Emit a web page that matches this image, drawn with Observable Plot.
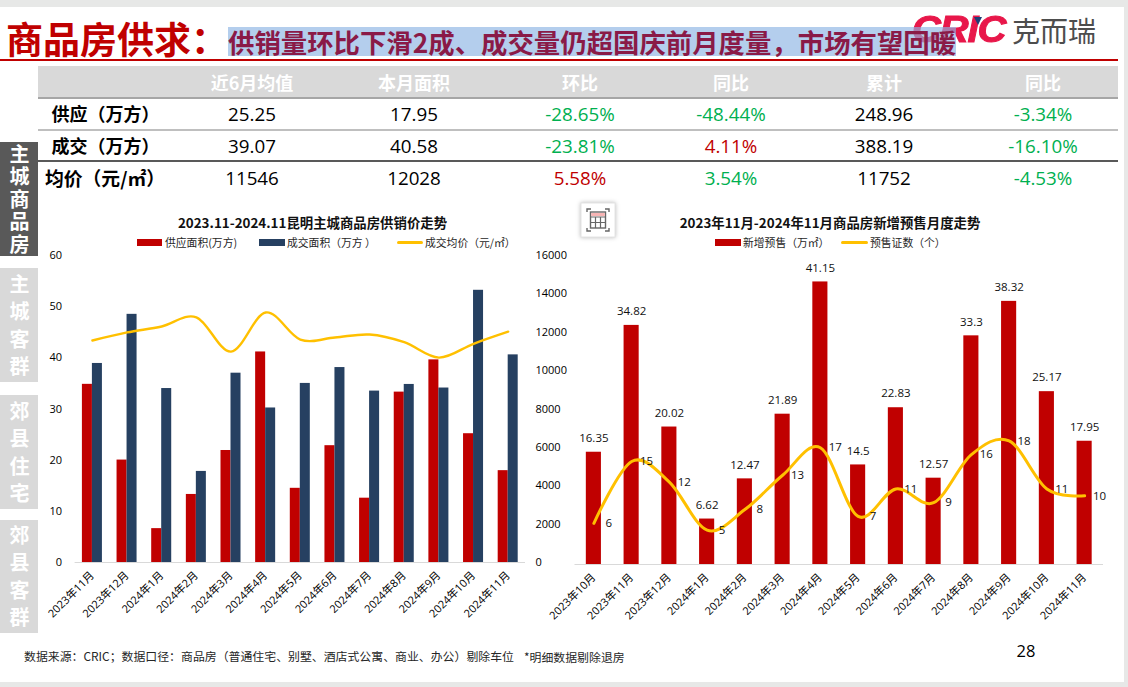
<!DOCTYPE html>
<html lang="zh">
<head>
<meta charset="utf-8">
<script src="https://cdn.jsdelivr.net/npm/d3@7"></script>
<script src="https://cdn.jsdelivr.net/npm/@observablehq/plot@0.6"></script>
<style>
html,body{margin:0;padding:0;background:#fff}
body{width:1128px;height:687px;position:relative;overflow:hidden;font-family:"Open Sans","Noto Sans CJK SC",sans-serif;color:#000}
.abs{position:absolute;white-space:nowrap}
.c{transform:translate(-50%,-50%)}
.cjk{font-family:"Noto Sans CJK SC",sans-serif}
svg{background:transparent!important}
.plot{position:absolute;left:0;top:0}
.tab{position:absolute;left:0;width:38px;display:flex;align-items:center;justify-content:center;color:#fff;font-weight:700;font-size:20px;font-family:"Noto Sans CJK SC",sans-serif}
.tab span{writing-mode:vertical-rl;text-orientation:upright;line-height:20px;white-space:nowrap}
.sw{position:absolute;height:7px}
.ln{position:absolute;height:3px;background:#ffc000;border-radius:2px}
.lg{position:absolute;font-size:10.8px;line-height:14px;color:#262626;white-space:nowrap;font-family:"Noto Sans CJK SC",sans-serif}
</style>
</head>
<body>
<div class="abs" style="left:0;top:0;width:1128px;height:7px;background:#e7e8e7"></div>
<div class="abs" style="left:0;top:682px;width:1128px;height:5px;background:#e7e8e7"></div>
<div class="abs" style="left:1124px;top:0;width:4px;height:687px;background:#e7e8e7"></div>

<div id="logo"></div>
<div class="abs cjk" id="title" style="left:6px;top:13px;font-size:37px;line-height:50px;font-weight:700;color:#c00000"></div>
<div class="abs cjk" id="subtitle" style="left:228px;top:27px;height:29px;line-height:29px;font-size:26.4px;font-weight:700;color:#8a1a47;background:rgba(140,180,228,.65)"></div>
<div class="abs" style="left:0;top:59px;width:1118px;height:1.5px;background:#c00000"></div>

<div class="abs" style="left:38px;top:66px;width:1080px;height:31px;background:#d9d9d9"></div>
<div class="abs" style="left:38px;top:97px;width:1080px;height:1.5px;background:#a6a6a6"></div>
<div class="abs" style="left:38px;top:129px;width:1080px;height:1.5px;background:#bfbfbf"></div>
<div class="abs" style="left:38px;top:160px;width:1080px;height:2px;background:#595959"></div>
<div id="table"></div>
<div id="tabs"></div>
<div id="chartL"></div>
<div id="chartR"></div>
<div id="legends"></div>

<svg class="abs" style="left:578px;top:200px;overflow:visible" width="40" height="40" viewBox="0 0 40 40">
  <rect x="3" y="3" width="34" height="34" fill="#fff" stroke="#e4e4e4" style="filter:drop-shadow(0 0 2px #bbb)"/>
  <path d="M9 12V9h4M27 9h4v3M9 28v3h4M27 31h4v-3" fill="none" stroke="#666" stroke-width="1.4"/>
  <rect x="12.5" y="12" width="15" height="16" fill="#fff" stroke="#666" stroke-width="1.4"/>
  <rect x="13.2" y="13" width="13.6" height="3" fill="#f7b4b4"/>
  <path d="M12.5 17h15M12.5 22.5h15M17.5 17v11M22.5 17v11" stroke="#666" stroke-width="1.2" fill="none"/>
</svg>

<div class="abs" id="source" style="left:24px;top:647px;font-size:11.9px;line-height:18px;color:#262626;font-family:'Noto Sans CJK SC',sans-serif"></div>
<div class="abs" id="note" style="left:524px;top:648px;font-size:11.9px;line-height:18px;color:#262626;font-family:'Noto Sans CJK SC',sans-serif"></div>
<div class="abs c" id="page" style="left:1026px;top:650px;font-size:16.5px;color:#000"></div>

<script>
// ---------- text ----------
const titleText = "商品房供求：";
const subtitleText = "供销量环比下滑2成、成交量仍超国庆前月度量，市场有望回暖";
const sourceText = "数据来源：CRIC；数据口径：商品房（普通住宅、别墅、酒店式公寓、商业、办公）剔除车位";
const noteText = "*明细数据剔除退房";
const pageText = "28";
const tabNames = ["主城商品房", "主城客群", "郊县住宅", "郊县客群"];

// ---------- summary table ----------
const tableHeaders = ["近6月均值", "本月面积", "环比", "同比", "累计", "同比"];
const rowLabels = ["供应（万方）", "成交（万方）", "均价（元/㎡）"];
const supplyRow = ["25.25", "17.95", "-28.65%", "-48.44%", "248.96", "-3.34%"];
const dealRow = ["39.07", "40.58", "-23.81%", "4.11%", "388.19", "-16.10%"];
const priceRow = ["11546", "12028", "5.58%", "3.54%", "11752", "-4.53%"];

// ---------- left chart ----------
const leftMonths = ["2023年11月","2023年12月","2024年1月","2024年2月","2024年3月","2024年4月","2024年5月","2024年6月","2024年7月","2024年8月","2024年9月","2024年10月","2024年11月"];
const leftTitle = "2023.11-2024.11昆明主城商品房供销价走势";
const supplyArea = [34.82,20.02,6.62,13.3,21.89,41.15,14.5,22.83,12.57,33.3,39.6,25.17,17.95];
const dealArea = [38.9,48.5,34,17.8,37,30.2,35,38.1,33.5,34.8,34.1,53.2,40.58];
const dealPrice = [11570,11990,12300,12780,10990,13030,11620,11730,11880,11480,10680,11400,12028];

// ---------- right chart ----------
const rightTitle = "2023年11月-2024年11月商品房新增预售月度走势";
const rightMonths = ["2023年10月","2023年11月","2023年12月","2024年1月","2024年2月","2024年3月","2024年4月","2024年5月","2024年6月","2024年7月","2024年8月","2024年9月","2024年10月","2024年11月"];
const newPresale = [16.35,34.82,20.02,6.62,12.47,21.89,41.15,14.5,22.83,12.57,33.3,38.32,25.17,17.95];
const permits = [6,15,12,5,8,13,17,7,11,9,16,18,11,10];

// ---------- colours ----------
const RED = "#c00000", NAVY = "#264061", GOLD = "#ffc000", GREEN = "#00b050";
const FONT = '"Open Sans","Noto Sans CJK SC",sans-serif';
const smooth = d3.curveCardinal.tension(0);

// ---------- static html parts ----------
document.getElementById("title").textContent = titleText;
document.getElementById("subtitle").textContent = subtitleText;
document.getElementById("source").textContent = sourceText;
document.getElementById("note").textContent = noteText;
document.getElementById("page").textContent = pageText;

function put(parent, text, css) {
  const d = document.createElement("div");
  d.className = "abs";
  d.textContent = text;
  d.style.cssText += css;
  parent.appendChild(d);
  return d;
}

// logo
const logo = document.getElementById("logo");
put(logo, "CRIC", "left:912px;top:8px;font:italic 900 37px/44px 'Liberation Sans',sans-serif;color:#e8174a;transform:scaleX(1.08);transform-origin:left;letter-spacing:-1px;-webkit-text-stroke:1px #e8174a");
put(logo, "", "left:974px;top:17px;width:0;height:0;border-left:4.5px solid transparent;border-right:4.5px solid transparent;border-top:8px solid #1f3f77");
put(logo, "克而瑞", "left:1012px;top:10px;font:400 28px/40px 'Noto Sans CJK SC',sans-serif;color:#4d4d4d");

// table
const colX = [252, 414, 580, 731, 884, 1043];
const rowY = [114, 146, 178];
const tableEl = document.getElementById("table");
tableHeaders.forEach((t, i) => {
  const d = put(tableEl, t, `left:${colX[i]}px;top:82px;font-size:18px;font-weight:700;color:#fff;font-family:'Noto Sans CJK SC',sans-serif`);
  d.classList.add("c");
});
[supplyRow, dealRow, priceRow].forEach((row, r) => {
  const l = put(tableEl, rowLabels[r], `left:${r === 2 ? 105 : 105.5}px;top:${rowY[r] - 1}px;font-size:${r === 2 ? 18.8 : 18}px;font-weight:700;font-family:'Noto Sans CJK SC',sans-serif`);
  l.classList.add("c");
  row.forEach((v, i) => {
    const pct = v.endsWith("%");
    const color = !pct ? "#000" : v.startsWith("-") ? GREEN : (r === 2 && i === 3 ? GREEN : RED);
    const d = put(tableEl, v, `left:${colX[i]}px;top:${rowY[r]}px;font-size:18.8px;color:${color}`);
    d.classList.add("c");
  });
});

// side tabs
const tabsEl = document.getElementById("tabs");
const tabBox = [[142,114,2.6,"#595959"],[268,113.5,7.5,"#d9d9d9"],[395,114,7.5,"#d9d9d9"],[520,113,7.5,"#d9d9d9"]];
tabNames.forEach((t, i) => {
  const d = document.createElement("div");
  d.className = "tab";
  d.style.top = tabBox[i][0] + "px";
  d.style.height = tabBox[i][1] + "px";
  d.style.background = tabBox[i][3];
  const s = document.createElement("span");
  s.textContent = t;
  s.style.letterSpacing = tabBox[i][2] + "px";
  s.style.paddingTop = tabBox[i][2] + "px";
  d.appendChild(s);
  tabsEl.appendChild(d);
});

// chart titles + legends
const lg = document.getElementById("legends");
const tStyle = "top:222px;font-size:13.4px;font-weight:700;color:#111;font-family:'Noto Sans CJK SC',sans-serif;";
put(lg, leftTitle, tStyle + "left:312.5px").classList.add("c");
put(lg, rightTitle, tStyle + "left:830px").classList.add("c");
const swatch = (x, w, y, color) => { const d = document.createElement("div"); d.className = "sw"; d.style.cssText = `left:${x}px;width:${w}px;top:${y}px;background:${color}`; lg.appendChild(d); };
const lineSw = (x, w, y) => { const d = document.createElement("div"); d.className = "ln"; d.style.cssText = `left:${x}px;width:${w}px;top:${y}px`; lg.appendChild(d); };
const lgText = (x, y, t) => { const d = document.createElement("div"); d.className = "lg"; d.style.left = x + "px"; d.style.top = y + "px"; d.textContent = t; lg.appendChild(d); };
swatch(137, 25, 239, RED);  lgText(165, 235, "供应面积(万方)");
swatch(259, 26, 239, NAVY); lgText(287, 235, "成交面积（万方 ）");
lineSw(397, 26, 241);       lgText(425, 235, "成交均价（元/㎡）");
swatch(715, 26, 239, RED);  lgText(743, 235, "新增预售（万㎡）");
lineSw(841, 27, 241);       lgText(870, 235, "预售证数（个）");

// ---------- plots ----------
const leftRows = leftMonths.map((m, i) => ({m, supply: supplyArea[i], deal: dealArea[i], price: dealPrice[i]}));
const rightRows = rightMonths.map((m, i) => ({m, area: newPresale[i], n: permits[i]}));

// plot area runs y 255..562 on the page
const leftDims = {width: 580, height: 640, marginLeft: 74.6, marginRight: 55, marginTop: 255, marginBottom: 78};
const xLeft = {domain: leftMonths, paddingInner: 0.711, paddingOuter: 0.355, round: false, label: null};

const plotBars = Plot.plot({
  ...leftDims,
  style: {fontFamily: FONT, fontSize: "11px", background: "transparent", overflow: "visible"},
  x: xLeft,
  y: {domain: [0, 60], label: null},
  marks: [
    Plot.axisY({ticks: d3.range(0, 61, 10), tickSize: 0, tickPadding: 13, label: null, fill: "#000"}),
    Plot.axisX({tickSize: 0, tickRotate: -45, tickPadding: 11, label: null, fill: "#000", fontSize: 11}),
    Plot.ruleY([0], {stroke: "#d9d9d9", strokeWidth: 1.2}),
    Plot.barY(leftRows, {x: "m", y: "supply", fill: RED, dx: -5}),
    Plot.barY(leftRows, {x: "m", y: "deal", fill: NAVY, dx: 5})
  ]
});
const plotLine = Plot.plot({
  ...leftDims,
  style: {fontFamily: FONT, fontSize: "11px", background: "transparent", overflow: "visible"},
  x: {...xLeft, axis: null},
  y: {domain: [0, 16000], label: null},
  marks: [
    Plot.axisY({anchor: "right", ticks: d3.range(0, 16001, 2000), tickSize: 0, tickPadding: 10, label: null, fill: "#000", tickFormat: d => String(d)}),
    Plot.lineY(leftRows, {x: "m", y: "price", stroke: GOLD, strokeWidth: 2.4, curve: smooth})
  ]
});
[plotBars, plotLine].forEach(p => { p.classList.add("plot"); document.getElementById("chartL").appendChild(p); });

const plotRight = Plot.plot({
  width: 1128, height: 640, marginLeft: 574.5, marginRight: 25, marginTop: 255, marginBottom: 76,
  style: {fontFamily: FONT, fontSize: "11px", background: "transparent", overflow: "visible"},
  x: {domain: rightMonths, paddingInner: 0.6, paddingOuter: 0.3, round: false, label: null},
  y: {domain: [0, 45], label: null, axis: null},
  marks: [
    Plot.axisX({tickSize: 0, tickRotate: -45, tickPadding: 11, label: null, fill: "#000", fontSize: 11}),
    Plot.ruleY([0], {stroke: "#d9d9d9", strokeWidth: 1.2}),
    Plot.barY(rightRows, {x: "m", y: "area", fill: RED}),
    Plot.lineY(rightRows, {x: "m", y: "n", stroke: GOLD, strokeWidth: 3, curve: smooth}),
    Plot.text(rightRows, {x: "m", y: "area", text: d => String(d.area), dy: -14, fontSize: 11.5, fill: "#111"}),
    Plot.text(rightRows, {x: "m", y: "n", text: d => String(d.n), dx: 15, fontSize: 11.5, fill: "#111"})
  ]
});
plotRight.classList.add("plot");
document.getElementById("chartR").appendChild(plotRight);
</script>
</body>
</html>
